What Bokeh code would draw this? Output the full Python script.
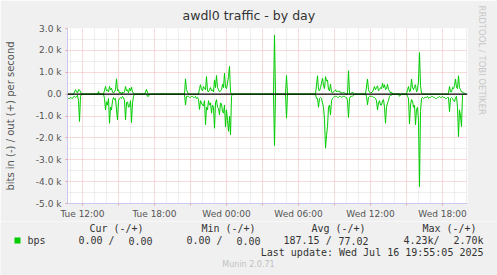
from math import pi
from bokeh.plotting import figure
from bokeh.layouts import column
from bokeh.models import Range1d, FixedTicker, Label, Span, Title
from bokeh.embed import file_html
from bokeh.resources import INLINE

# ---- data: time in minutes since Tue 00:00 (5-min samples), values in bits/s ----
out_t = [645, 675, 680, 685, 690, 695, 700, 705, 710, 715,
         795, 800, 805,
         825, 835, 840, 845, 850, 855, 860, 865, 870, 875, 880, 885, 890, 895, 900, 905, 910,
         915, 920, 925, 930, 935, 940, 945, 950, 955, 960, 965, 970, 975, 980,
         1030, 1035, 1040, 1045, 1050,
         1115, 1120, 1125,
         1230, 1235, 1240, 1245, 1250, 1300, 1305, 1310, 1315, 1320, 1325, 1330, 1335, 1340,
         1345, 1350, 1355, 1360, 1365, 1370, 1375, 1380, 1385, 1390, 1395, 1400, 1405, 1410,
         1415, 1420, 1425, 1430, 1435, 1440, 1445, 1450, 1455, 1460, 1465,
         1675, 1680, 1685, 1735, 1740, 1745,
         1885, 1895, 1900, 1905, 1910, 1915, 1920, 1925, 1930, 1935, 1940, 1945, 1950, 1955,
         1960, 1965, 1970, 1975, 1980, 1985, 1990, 1995, 2000, 2005, 2010, 2020, 2025, 2030,
         2035, 2045, 2050, 2055, 2060, 2065, 2070, 2075,
         2135, 2145, 2150, 2155, 2160, 2170, 2180, 2185, 2190, 2195, 2200, 2205, 2210, 2215,
         2220, 2225, 2230, 2235, 2240, 2245, 2250, 2255, 2260, 2265, 2270,
         2295, 2300, 2305,
         2340, 2345, 2350, 2355, 2360, 2365, 2370, 2375, 2380, 2385, 2390, 2395, 2400, 2405,
         2410, 2415, 2420,
         2545, 2550, 2555, 2560, 2565, 2570, 2575, 2580, 2585, 2590, 2595, 2600, 2605, 2610,
         2615, 2620, 2625, 2630, 2635]
out_v = [0, 0, 100, 200, 100, 50, 200, 200, 100, 0,
         0, 120, 0,
         0, 350, 150, 200, 100, 350, 200, 270, 100, 50, 120, 200, 700, 150, 200, 50, 100,
         0, 100, 50, 100, 350, 150, 200, 50, 280, 150, 320, 100, 50, 0,
         0, 100, 220, 50, 0,
         0, 50, 0,
         0, 700, 200, 100, 0, 0, 250, 430, 200, 150, 350, 250, 200, 800,
         150, 100, 200, 300, 150, 200, 100, 650, 300, 850, 300, 200, 100, 150,
         200, 450, 300, 960, 300, 250, 500, 800, 1270, 100, 0,
         0, 2700, 0, 0, 850, 0,
         0, 840, 200, 150, 300, 500, 730, 400, 250, 800, 600, 650, 200, 150,
         460, 100, 50, 100, 150, 200, 100, 150, 100, 150, 50, 50, 100, 50,
         0, 0, 1070, 50, 0, 50, 100, 0,
         0, 690, 200, 100, 50, 100, 350, 200, 300, 380, 150, 200, 300, 250,
         500, 300, 430, 200, 250, 450, 200, 150, 50, 100, 0,
         0, 50, 0,
         0, 200, 350, 100, 150, 690, 300, 200, 350, 430, 100, 200, 600, 1900,
         400, 50, 0,
         0, 50, 350, 100, 100, 300, 250, 400, 690, 300, 250, 840, 300, 200,
         100, 100, 50, 50, 0]

in_t = [645, 650, 655, 660, 665, 670, 675, 680, 685, 690, 695, 700, 705, 710, 715,
        825, 830, 835, 840, 845, 850, 855, 860, 865, 870, 875, 880, 885, 890, 895, 900,
        905, 910, 915, 920, 925, 930, 935, 940, 945, 950, 955, 960, 965, 970, 975, 980,
        1040, 1045, 1050, 1055,
        1230, 1235, 1240, 1245, 1250, 1255, 1260, 1265, 1270, 1275, 1280, 1285, 1290, 1295,
        1300, 1305, 1310, 1315, 1320, 1325, 1330, 1335, 1340, 1345, 1350, 1355, 1360, 1365,
        1370, 1375, 1380, 1385, 1390, 1395, 1400, 1405, 1410, 1415, 1420, 1425, 1430, 1435,
        1440, 1445, 1450, 1455, 1460, 1465, 1470,
        1675, 1680, 1685, 1735, 1740, 1745,
        1885, 1890, 1895, 1900, 1905, 1910, 1915, 1920, 1925, 1930, 1935, 1940, 1945, 1950,
        1955, 1960, 1965, 1970, 1975, 1980, 1985, 1990, 1995, 2000, 2005, 2010, 2015, 2020,
        2025, 2030, 2035, 2040, 2045, 2050, 2055, 2060, 2065, 2070, 2075, 2080,
        2135, 2140, 2145, 2150, 2155, 2160, 2165, 2170, 2175, 2180, 2185, 2190, 2195, 2200,
        2205, 2210, 2215, 2220, 2225, 2230, 2235, 2240, 2245, 2250, 2255, 2260, 2265, 2270,
        2300, 2305, 2310, 2315,
        2340, 2345, 2350, 2355, 2360, 2365, 2370, 2375, 2380, 2385,
        2390, 2395, 2400, 2405, 2410, 2415, 2420, 2425, 2430, 2435,
        2440, 2445, 2450, 2455, 2460, 2465, 2470, 2475, 2480, 2485,
        2490, 2495, 2500, 2505, 2510, 2515, 2520, 2525, 2530, 2535,
        2540, 2545, 2550, 2555, 2560, 2565, 2570, 2575, 2580, 2585,
        2590, 2595, 2600, 2605, 2610, 2615, 2620, 2625, 2630, 2635]
in_v = [250, 200, 200, 150, 180, 200, 120, 100, 150, 120, 50, 300, 1250, 100, 0,
        0, 200, 720, 350, 500, 200, 1330, 600, 720, 300, 150, 250, 200, 720, 1180, 300,
        200, 150, 200, 100, 150, 300, 1180, 400, 350, 600, 550, 300, 1300, 400, 100, 0,
        0, 100, 100, 0,
        0, 500, 100, 100, 100, 150, 150, 100, 100, 150, 150, 100, 200, 150,
        250, 700, 300, 400, 500, 550, 300, 1400, 600, 720, 300, 500, 400, 870,
        500, 600, 1560, 400, 250, 600, 650, 950, 400, 450, 800, 870, 500, 1500,
        720, 1200, 1700, 1000, 1860, 100, 0,
        0, 2350, 0, 0, 1100, 0,
        0, 200, 200, 600, 200, 150, 200, 400, 600, 1170, 2470, 1900, 1480, 600,
        500, 950, 300, 200, 150, 100, 100, 100, 150, 150, 100, 100, 150, 100,
        100, 100, 150, 150, 300, 1070, 200, 100, 100, 100, 50, 0,
        0, 100, 490, 150, 100, 100, 100, 100, 150, 150, 200, 300, 720, 400,
        300, 500, 500, 300, 250, 600, 1330, 600, 400, 300, 100, 50, 50, 0,
        0, 100, 50, 0,
        0, 100, 200, 1360, 500, 250, 300, 600, 500, 1400,
        700, 600, 1200, 4230, 800, 200, 150, 200, 150, 150,
        150, 100, 200, 150, 150, 100, 100, 150, 150, 200,
        200, 150, 150, 100, 150, 150, 100, 150, 150, 200,
        200, 150, 150, 800, 200, 150, 200, 300, 350, 150,
        100, 600, 1940, 720, 1000, 1480, 50, 0, 0, 0]

y_ticks = [-5000, -4000, -3000, -2000, -1000, 0, 1000, 2000, 3000]
y_tick_labels = ["-5.0 k", "-4.0 k", "-3.0 k", "-2.0 k", "-1.0 k", "0.0", "1.0 k", "2.0 k", "3.0 k"]
x_ticks = [720, 900, 1080, 1260, 1440, 1620, 1800, 1980, 2160, 2340, 2520]
x_tick_labels = ["Tue 12:00", "", "Tue 18:00", "", "Wed 00:00", "", "Wed 06:00", "",
                 "Wed 12:00", "", "Wed 18:00"]

title = "awdl0 traffic - by day"
y_label = "bits in (-) / out (+) per second"
legend_name = "bps"
col_heads = ["Cur (-/+)", "Min (-/+)", "Avg (-/+)", "Max (-/+)"]
col_in = ["0.00 /", "0.00 /", "187.15 /", "4.23k/"]
col_out = ["0.00", "0.00", "77.02", "2.70k"]
last_update = "Last update: Wed Jul 16 19:55:05 2025"
footer = "Munin 2.0.71"
side_text = "RRDTOOL / TOBI OETIKER"

assert len(out_t) == len(out_v) and len(in_t) == len(in_v)

X0, X1, Y0, Y1 = 645, 2645, -5000, 3000
W = 497
H1 = 221                      # main figure height
H2 = 275 - H1                 # legend strip height
FL, FR, FT, FB = 67, 467, 28, 203   # frame in pixels
BG = "#F0F0F0"
GREEN = "#00CC00"

p = figure(width=W, height=H1, output_backend="svg", toolbar_location=None, title=None,
           x_range=Range1d(X0, X1), y_range=Range1d(Y0, Y1),
           min_border_left=FL, min_border_right=W - FR, min_border_top=FT,
           min_border_bottom=H1 - FB,
           background_fill_color="white", border_fill_color=BG,
           outline_line_color=None)
p.frame_align = False

p.line(out_t, out_v, line_color=GREEN, line_width=1)
p.line(in_t, [-v for v in in_v], line_color=GREEN, line_width=1)
p.add_layout(Span(location=0, dimension="width", line_color="black", line_width=1.2))

# axes / ticks
p.yaxis.ticker = FixedTicker(ticks=y_ticks,
                             minor_ticks=[t + 500 for t in y_ticks[:-1]])
p.yaxis.major_label_overrides = dict(zip(y_ticks, y_tick_labels))
p.xaxis.ticker = FixedTicker(ticks=x_ticks,
                             minor_ticks=[m for m in range(660, 2645, 60) if (m - 720) % 180 != 0])
p.xaxis.major_label_overrides = dict(zip(x_ticks, x_tick_labels))

for ax in (p.xaxis, p.yaxis):
    ax.axis_line_color = "#C8C8F0"
    ax.major_tick_line_color = "#E8A0A0"
    ax.major_tick_out = 2
    ax.major_tick_in = 0
    ax.minor_tick_out = 0
    ax.minor_tick_in = 0
    ax.major_label_text_font = "DejaVu Sans"
    ax.major_label_text_font_size = "9px"
    ax.major_label_text_color = "#555555"
    ax.major_label_standoff = 4
p.xaxis.major_label_standoff = 3

p.yaxis.axis_label = y_label
p.yaxis.axis_label_text_font = "DejaVu Sans"
p.yaxis.axis_label_text_font_size = "10px"
p.yaxis.axis_label_text_font_style = "normal"
p.yaxis.axis_label_text_color = "#555555"
p.yaxis.axis_label_standoff = 17

for g in (p.xgrid, p.ygrid):
    g.grid_line_color = "#F2B4B4"
    g.grid_line_dash = "1 1"
    g.minor_grid_line_color = "#DCDCDC"
    g.minor_grid_line_dash = "1 1"

p.add_layout(Title(text=title, align="left", offset=115, text_font="DejaVu Sans",
                   text_font_size="12.5px", text_font_style="normal", text_color="#333333",
                   standoff=11), "above")
p.add_layout(Title(text=side_text, align="left", offset=-23, text_font="DejaVu Sans",
                   text_font_size="8.5px", text_font_style="normal", text_color="#C8C8C8",
                   standoff=18), "right")

# ---- legend strip: frame covers the whole strip, coordinates in pixels from its top-left
q = figure(width=W, height=H2, output_backend="svg", toolbar_location=None, title=None,
           x_range=Range1d(0, W), y_range=Range1d(H2, 0),
           x_axis_type=None, y_axis_type=None,
           min_border=0, min_border_left=0, min_border_right=0,
           min_border_top=0, min_border_bottom=0,
           background_fill_color=BG, border_fill_color=BG, outline_line_color=None)
q.frame_align = False
q.xgrid.visible = False
q.ygrid.visible = False

def lab(text, px, py, size="10px", font="DejaVu Sans Mono", color="#333333", align="left"):
    q.add_layout(Label(x=px, y=py - H1, text=text, text_font=font, text_font_size=size,
                       text_color=color, text_align=align, text_baseline="middle"))

head_cx = [116, 228, 338, 449]
in_lx = [78, 186, 283, 403]
out_rx = [152, 260, 368, 483]
for t, cx in zip(col_heads, head_cx):
    lab(t, cx, 228, align="center")
for t, lx in zip(col_in, in_lx):
    lab(t, lx, 240, align="left")
for t, rx in zip(col_out, out_rx):
    lab(t, rx, 240, align="right")
lab(legend_name, 27, 240)
lab(last_update, 483, 252, align="right")
lab(footer, 248, 264, size="8px", font="DejaVu Sans", color="#C0C0C0", align="center")
q.scatter(x=[17], y=[240 - H1], marker="square", size=6, fill_color=GREEN, line_color=None)

layout = column(p, q, spacing=0)
open("out.html", "w").write(file_html(layout, INLINE))
